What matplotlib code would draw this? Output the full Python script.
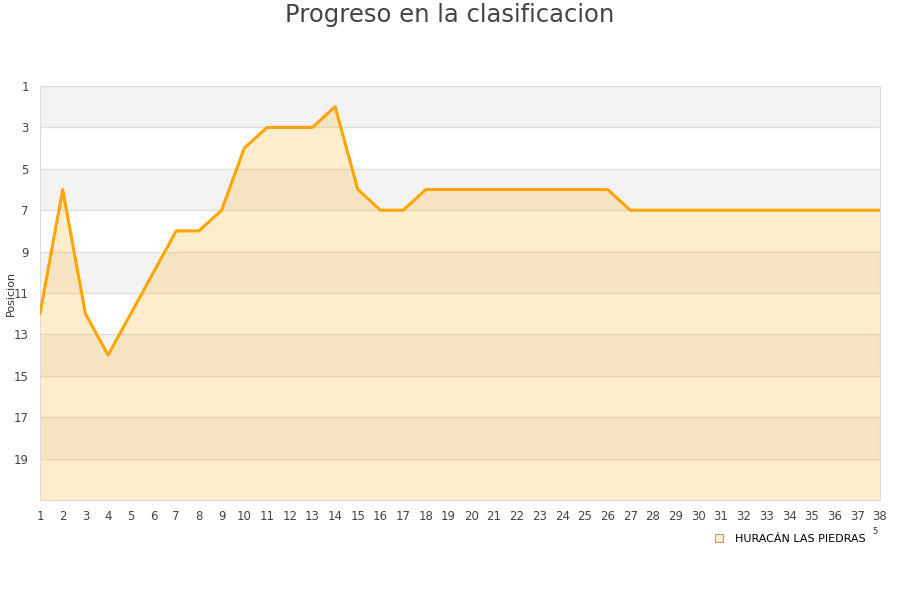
import matplotlib
matplotlib.use("Agg")
import matplotlib.pyplot as plt
from matplotlib.lines import Line2D

# Datos
jornadas = list(range(1, 39))
posiciones = [12, 6, 12, 14, 12, 10, 8, 8, 7, 4, 3, 3, 3, 2, 6, 7, 7, 6,
              6, 6, 6, 6, 6, 6, 6, 6, 7, 7, 7, 7, 7, 7, 7, 7, 7, 7, 7, 7]
equipo = "HURACÁN LAS PIEDRAS"
y_ticks = [1, 3, 5, 7, 9, 11, 13, 15, 17, 19]

naranja = "#ffa500"

fig = plt.figure(figsize=(9, 6), dpi=100)
ax = fig.add_axes([40 / 900, 100 / 600, 840 / 900, 414 / 600])

# bandas de fondo
for y0 in range(1, 21, 4):
    ax.axhspan(y0, y0 + 2, color="#f3f3f3", lw=0, zorder=0)
for y in y_ticks:
    ax.axhline(y, color="#e0e0e0", lw=1, zorder=1)

ax.fill_between(jornadas, posiciones, 21, color=naranja, alpha=0.2, lw=0, zorder=2)
ax.plot(jornadas, posiciones, color=naranja, lw=2.2, zorder=3, solid_joinstyle="round")

ax.set_xlim(1, 38)
ax.set_ylim(21, 1)
ax.set_xticks(jornadas)
ax.set_yticks(y_ticks)
ax.tick_params(length=0, labelsize=8.5, colors="#444444", pad=7)
ax.tick_params(axis="y", pad=8)
for s in ax.spines.values():
    s.set_color("#dddddd")

ax.set_ylabel("Posicion", fontsize=8, color="#333333")
ax.yaxis.set_label_coords(-0.029, 0.5)
fig.text(0.5, 0.995, "Progreso en la clasificacion", ha="center", va="top",
         fontsize=17.5, color="#444444")

handle = Line2D([], [], marker="s", ls="", markersize=6,
                markerfacecolor="#ffedcc", markeredgecolor="#b0a080", markeredgewidth=0.8)
fig.legend([handle], [equipo], loc="center", bbox_to_anchor=(787 / 900, 1 - 539 / 600),
           frameon=False, fontsize=8, handletextpad=0.4)
fig.text(875 / 900, 1 - 532 / 600, "5", fontsize=6, color="#333333", ha="center", va="center")

fig.savefig("out.png", dpi=100)
